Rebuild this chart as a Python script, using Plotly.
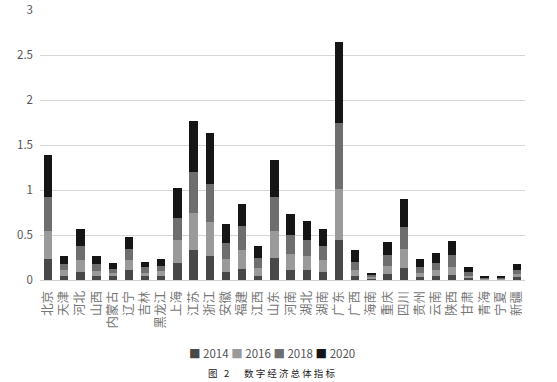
import plotly.graph_objects as go

provinces = ["北京", "天津", "河北", "山西", "内蒙古", "辽宁", "吉林", "黑龙江", "上海", "江苏",
             "浙江", "安徽", "福建", "江西", "山东", "河南", "湖北", "湖南", "广东", "广西",
             "海南", "重庆", "四川", "贵州", "云南", "陕西", "甘肃", "青海", "宁夏", "新疆"]

v2014 = [0.23, 0.05, 0.09, 0.05, 0.04, 0.11, 0.04, 0.05, 0.185, 0.33,
         0.27, 0.09, 0.12, 0.05, 0.24, 0.11, 0.11, 0.085, 0.44, 0.045,
         0.015, 0.065, 0.13, 0.035, 0.045, 0.055, 0.025, 0.008, 0.01, 0.035]
v2016 = [0.32, 0.06, 0.13, 0.05, 0.035, 0.11, 0.04, 0.05, 0.255, 0.41,
         0.38, 0.14, 0.21, 0.08, 0.31, 0.175, 0.16, 0.135, 0.57, 0.065,
         0.02, 0.095, 0.21, 0.045, 0.065, 0.095, 0.025, 0.008, 0.01, 0.035]
v2018 = [0.37, 0.07, 0.16, 0.08, 0.05, 0.13, 0.06, 0.06, 0.25, 0.46,
         0.42, 0.18, 0.27, 0.11, 0.37, 0.215, 0.18, 0.16, 0.73, 0.09,
         0.02, 0.12, 0.25, 0.07, 0.075, 0.13, 0.04, 0.009, 0.01, 0.045]
v2020 = [0.47, 0.09, 0.19, 0.09, 0.06, 0.13, 0.055, 0.07, 0.33, 0.57,
         0.56, 0.21, 0.24, 0.14, 0.41, 0.23, 0.205, 0.19, 0.91, 0.13,
         0.025, 0.14, 0.31, 0.08, 0.115, 0.15, 0.06, 0.01, 0.01, 0.06]

series_names = ["2014", "2016", "2018", "2020"]
series_values = [v2014, v2016, v2018, v2020]
series_colors = ["#484848", "#9a9a9a", "#6e6e6e", "#151515"]

y_ticks = [0, 0.5, 1, 1.5, 2, 2.5, 3]
y_tick_labels = ["0", "0.5", "1", "1.5", "2", "2.5", "3"]

caption = "图 2   数字经济总体指标"

fig = go.Figure()
for name, vals, col in zip(series_names, series_values, series_colors):
    fig.add_trace(go.Bar(x=provinces, y=vals, name=name, marker_color=col,
                         marker_line_width=0, showlegend=False))

fig.update_layout(
    barmode="stack",
    bargap=0.48,
    width=557, height=382,
    margin=dict(l=40, r=32, t=10, b=102),
    plot_bgcolor="white", paper_bgcolor="white",
    font=dict(family="Noto Sans CJK SC, sans-serif", color="#555555"),
    xaxis=dict(tickangle=-90, tickfont=dict(size=12.5, color="#777777"),
               showline=True, linecolor="#d0d0d0", linewidth=1,
               showgrid=False, ticks="", ticklabelstandoff=5,
               automargin=False),
    yaxis=dict(range=[0, 3], tickvals=y_ticks, ticktext=y_tick_labels,
               tickfont=dict(size=11.5, color="#555555"),
               showgrid=True, gridcolor="#d6d6d6", gridwidth=1,
               zeroline=False, ticks="", ticklabelstandoff=6,
               automargin=False),
)

# legend drawn as a text row
legend_parts = []
for name, col in zip(series_names, series_colors):
    legend_parts.append(f'<span style="color:{col}">■</span>\u00a0{name}')
fig.add_annotation(text="\u00a0".join(legend_parts), xref="paper", yref="paper",
                   x=0.478, y=-0.270, xanchor="center", yanchor="middle",
                   showarrow=False, font=dict(size=11.5, color="#555555"))

spaced_caption = "\u00a0".join(list(caption.replace(" ", "\u00a0")))
fig.add_annotation(text=spaced_caption, xref="paper", yref="paper",
                   x=0.478, y=-0.344, xanchor="center", yanchor="middle",
                   showarrow=False, font=dict(size=9.5, color="#222222"))

fig.write_html("out.html", config={"displayModeBar": False},
               post_script="document.body.style.margin='0';document.body.style.overflow='hidden';")
